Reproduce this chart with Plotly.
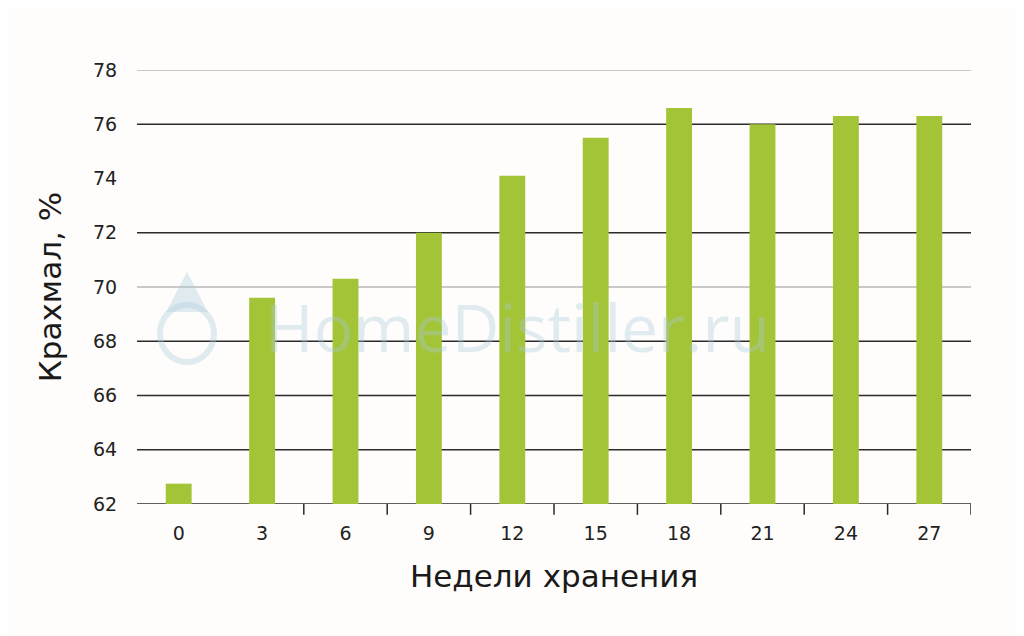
import plotly.graph_objects as go

weeks = ["0", "3", "6", "9", "12", "15", "18", "21", "24", "27"]
starch = [62.75, 69.6, 70.3, 72.0, 74.1, 75.5, 76.6, 76.0, 76.3, 76.3]
y_ticks = [62, 64, 66, 68, 70, 72, 74, 76, 78]
x_title = "Недели хранения"
y_title = "Крахмал, %"
watermark = "HomeDistiller.ru"

BAR = "#a3c436"
DARK = "#2b2b2b"
LIGHT = "#c9c9c9"
WM = "rgba(170,200,222,0.35)"
tick_font = dict(family="DejaVu Sans, sans-serif", size=19, color="#222222")

fig = go.Figure()
fig.add_trace(go.Bar(x=weeks, y=[v - 62 for v in starch], base=62,
                     marker=dict(color=BAR, line=dict(width=0)),
                     hoverinfo="skip"))

# gridlines (source image shows some lines faint/missing)
grid_style = {62: DARK, 64: DARK, 66: DARK, 68: DARK, 70: LIGHT, 72: DARK, 76: DARK, 78: LIGHT}
shapes = []
for lvl, col in grid_style.items():
    shapes.append(dict(type="line", xref="paper", yref="y", x0=0, x1=1, y0=lvl, y1=lvl,
                       line=dict(color=col, width=1.6 if col == DARK else 2), layer="below"))
# tick marks at category boundaries (from the 3|6 boundary to the right end)
for i in range(1, len(weeks)):
    shapes.append(dict(type="line", xref="x", yref="paper", x0=i + 0.5, x1=i + 0.5,
                       y0=0, y1=-0.025, line=dict(color=DARK, width=1.5)))
# watermark drop icon
shapes.append(dict(type="circle", xref="paper", yref="paper",
                   x0=(160 - 137) / 834, x1=(214 - 137) / 834,
                   y0=(504 - 362) / 434, y1=(504 - 305) / 434,
                   line=dict(color=WM, width=6)))
shapes.append(dict(type="path", xref="paper", yref="paper",
                   path="M %f %f L %f %f L %f %f Z" % ((166 - 137) / 834, (504 - 312) / 434,
                                                      (187 - 137) / 834, (504 - 272) / 434,
                                                      (208 - 137) / 834, (504 - 312) / 434),
                   fillcolor=WM, line=dict(width=0)))

fig.update_layout(
    width=1024, height=636,
    margin=dict(l=129, r=61, t=62, b=140),
    paper_bgcolor="#fefdfb", plot_bgcolor="#fefdfb",
    showlegend=False,
    bargap=0.69,
    shapes=shapes,
    xaxis=dict(type="category", range=[-0.5, len(weeks) - 0.5], showgrid=False,
               showline=False, zeroline=False, ticks="outside", ticklen=12,
               tickcolor="rgba(0,0,0,0)", tickfont=tick_font,
               title=dict(text=x_title, standoff=22,
                          font=dict(family="DejaVu Sans, sans-serif", size=31, color="#1a1a1a"))),
    yaxis=dict(range=[62, 78], tickvals=y_ticks, showgrid=False, showline=False,
               zeroline=False, ticks="outside", ticklen=15, tickcolor="rgba(0,0,0,0)",
               tickfont=tick_font,
               title=dict(text=y_title, standoff=22,
                          font=dict(family="DejaVu Sans, sans-serif", size=31, color="#1a1a1a"))),
    annotations=[dict(text=watermark, xref="paper", yref="paper", x=0.456, y=0.41,
                      showarrow=False,
                      font=dict(family="Open Sans, sans-serif", size=66, color=WM))],
)

fig.write_html("out.html")
